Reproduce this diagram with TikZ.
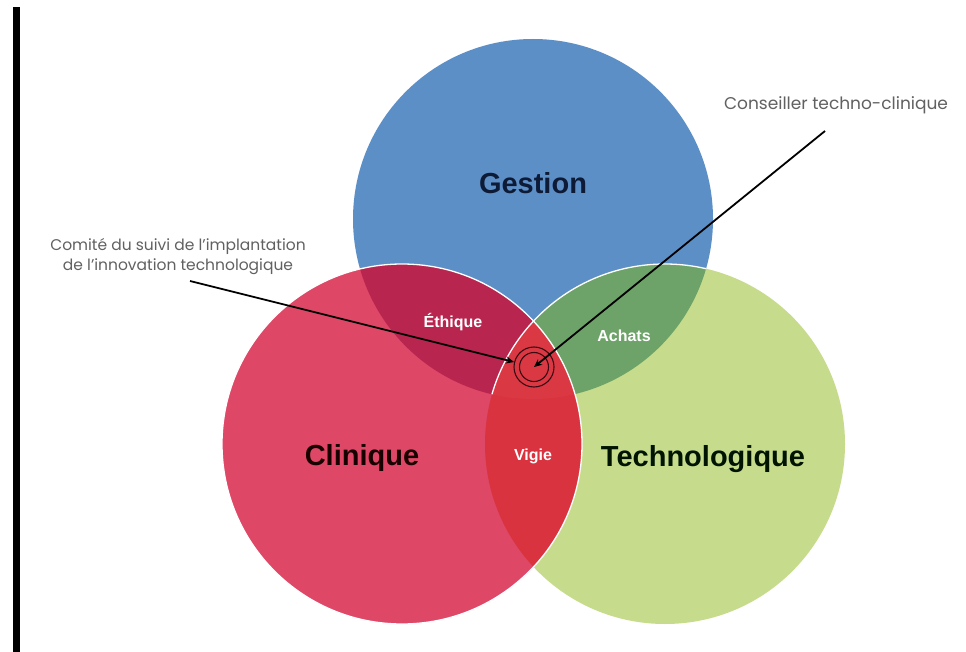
\documentclass[tikz,border=0pt]{standalone}
\usepackage{fontspec}
\setmainfont{Liberation Sans}
\newfontfamily\notefont{Poppins}
\usetikzlibrary{arrows.meta}
\definecolor{gblue}{HTML}{5D8FC7}
\definecolor{cred}{HTML}{DE4766}
\definecolor{tgreen}{HTML}{C6DC8C}
\definecolor{ethc}{HTML}{B8264F}
\definecolor{achc}{HTML}{6DA368}
\definecolor{vigc}{HTML}{D8333F}
\definecolor{midc}{HTML}{DA3944}
\definecolor{navytxt}{HTML}{0E1B36}
\definecolor{ringc}{HTML}{3A0A12}
\begin{document}
\begin{tikzpicture}[x=1pt,y=-1pt,
  venn/.style={circle, minimum size=360pt, inner sep=0pt},
  big/.style={font=\bfseries\fontsize{29}{34}\selectfont},
  small/.style={font=\bfseries\fontsize{16}{18}\selectfont, text=white},
  note/.style={text=black!62, align=center},
  ptr/.style={draw=black, line width=1.8pt, -{Stealth[length=8pt,width=7pt]}},
  ring/.style={circle, draw=ringc, line width=1.1pt, inner sep=0pt}]

\path[fill=white] (0,0) rectangle (966,652);
\useasboundingbox (0,0) rectangle (966,652);
\fill[black] (13,7) rectangle (20,652);

% circles
\node[venn, fill=gblue] (G) at (533,219) {};
\node[venn, fill=tgreen] (T) at (665,444) {};
\node[venn, fill=cred] (C) at (402,444) {};

% overlaps
\begin{scope}
  \clip (G.center) circle[radius=180pt];
  \fill[ethc] (C.center) circle[radius=180pt];
  \fill[achc] (T.center) circle[radius=180pt];
\end{scope}
\begin{scope}
  \clip (C.center) circle[radius=180pt];
  \fill[vigc] (T.center) circle[radius=180pt];
  \clip (G.center) circle[radius=180pt];
  \fill[midc] (T.center) circle[radius=180pt];
\end{scope}

% white outlines
\draw[white, line width=1.3pt] (C.center) circle[radius=180pt];
\begin{scope}
  \clip (G.center) circle[radius=180pt];
  \draw[white, line width=1.3pt] (T.center) circle[radius=180pt];
\end{scope}

% labels
\node[big, text=navytxt] (gl) at (533,183) {Gestion};
\node[big, text=black!90!red] (cl) at (362,458) {Clinique};
\node[big, text=black!92!green] (tl) at (703,459) {Technologique};
\node[small] (el) at (453,322) {Éthique};
\node[small] (al) at (624,336) {Achats};
\node[small] (vl) at (533,456) {Vigie};

% notes
\node[note, font=\notefont\fontsize{15.5}{20}\selectfont] (n1) at (178,257) {Comité du suivi de l’implantation\\de l’innovation technologique};
\node[note, font=\notefont\fontsize{17}{20}\selectfont] (n2) at (836,105) {Conseiller techno-clinique};

% target rings
\node[ring, minimum size=40pt] (R) at (534,367) {};
\node[ring, minimum size=29pt] (Ri) at (534,367) {};

% pointers
\coordinate (s1) at (190,281);
\coordinate (s2) at (825,131);
\draw[ptr] (s1) -- (R);
\draw[ptr] (s2) -- (R.center);
\end{tikzpicture}
\end{document}
